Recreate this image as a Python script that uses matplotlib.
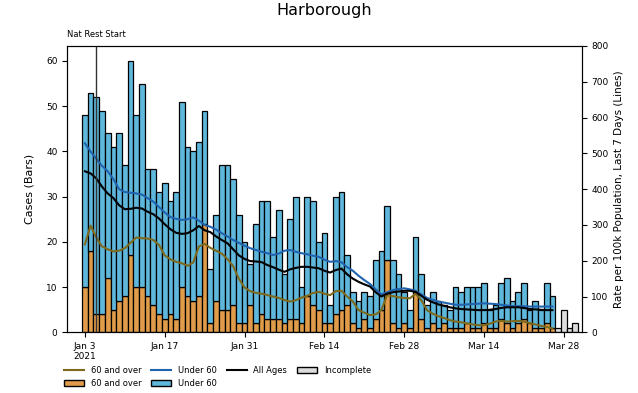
import matplotlib
matplotlib.use("Agg")
import matplotlib.pyplot as plt
import pandas as pd
from matplotlib.patches import Patch
from matplotlib.lines import Line2D

# daily cases from 3 Jan 2021
cases_60_plus = [10, 18, 4, 4, 12, 5, 7, 8, 17, 10, 10, 8, 6, 4, 3, 4, 3, 10, 8, 7,
                 8, 24, 2, 7, 5, 5, 6, 2, 2, 6, 2, 4, 3, 3, 3, 2, 3, 3, 2, 8,
                 6, 5, 2, 2, 4, 5, 6, 2, 1, 3, 1, 3, 5, 16, 2, 1, 2, 1, 9, 3,
                 1, 2, 1, 2, 1, 1, 1, 2, 1, 1, 2, 1, 1, 3, 2, 1, 2, 3, 2, 1,
                 1, 2, 1]
cases_under_60 = [38, 35, 48, 45, 32, 36, 37, 29, 43, 38, 45, 28, 30, 27, 30, 25, 28, 41, 33, 33,
                  34, 25, 12, 19, 32, 32, 28, 24, 18, 9, 22, 25, 26, 18, 24, 11, 22, 27, 8, 22,
                  23, 15, 20, 4, 26, 26, 11, 7, 6, 6, 7, 13, 13, 12, 14, 12, 7, 4, 12, 10,
                  5, 7, 6, 4, 4, 9, 8, 8, 9, 9, 9, 4, 5, 8, 10, 6, 7, 8, 3, 6,
                  4, 9, 7]
incomplete_cases = [1, 5, 1, 2]

# rate per 100k, last 7 days
rate_all_ages = [450, 444, 430, 407, 388, 375, 355, 344, 345, 348, 346, 337, 330, 318, 302, 288, 278, 275, 277, 285,
                 297, 285, 280, 268, 258, 249, 232, 215, 205, 199, 198, 196, 188, 182, 175, 169, 176, 180, 183, 183,
                 181, 179, 172, 167, 174, 178, 162, 150, 141, 134, 128, 112, 100, 108, 112, 114, 116, 116, 113, 102,
                 91, 84, 78, 74, 70, 67, 65, 64, 63, 62, 62, 63, 65, 68, 70, 70, 70, 68, 65, 64,
                 63, 62, 62]
rate_under_60 = [528, 505, 485, 465, 450, 428, 400, 392, 390, 388, 385, 375, 365, 350, 335, 322, 317, 314, 316, 321,
                 312, 300, 295, 287, 277, 268, 258, 250, 242, 235, 230, 225, 221, 216, 220, 228, 230, 225, 221, 218,
                 214, 211, 203, 197, 199, 196, 182, 172, 158, 146, 135, 120, 106, 112, 118, 121, 123, 120, 116, 106,
                 96, 91, 86, 83, 80, 77, 77, 78, 79, 80, 81, 80, 79, 77, 75, 73, 73, 73, 72, 72,
                 72, 72, 72]
rate_60_plus = [246, 298, 265, 240, 232, 226, 228, 235, 250, 265, 263, 262, 258, 244, 215, 204, 197, 193, 186, 195,
                240, 247, 236, 228, 220, 205, 185, 150, 125, 115, 110, 108, 104, 100, 96, 90, 86, 90, 97, 102,
                110, 113, 108, 104, 115, 116, 100, 86, 62, 55, 48, 50, 62, 104, 101, 98, 96, 95, 108, 90,
                62, 52, 45, 40, 34, 30, 28, 25, 22, 20, 20, 24, 30, 32, 30, 31, 32, 30, 26, 22,
                18, 15, 11]

tick_dates = ["2021-01-03", "2021-01-17", "2021-01-31", "2021-02-14", "2021-02-28", "2021-03-14", "2021-03-28"]
tick_labels = ["Jan 3\n2021", "Jan 17", "Jan 31", "Feb 14", "Feb 28", "Mar 14", "Mar 28"]

days = pd.date_range("2021-01-03", periods=len(cases_60_plus), freq="D")
inc_days = pd.date_range(days[-1] + pd.Timedelta(days=1), periods=len(incomplete_cases), freq="D")

c_old = "#e09c4a"
c_young = "#5fb8dc"
c_old_line = "#7d6a1e"
c_young_line = "#2063ae"

fig = plt.figure(figsize=(6.38, 3.93), dpi=100)
ax1 = fig.add_axes([0.1055, 0.1544, 0.8062, 0.7286])
ax2 = ax1.twinx()

ax1.bar(days, cases_60_plus, width=1, color=c_old, edgecolor="black", linewidth=0.9)
ax1.bar(days, cases_under_60, width=1, bottom=cases_60_plus, color=c_young, edgecolor="black", linewidth=0.9)
ax1.bar(inc_days, incomplete_cases, width=1, color="#dcdcdc", edgecolor="black", linewidth=0.9)

ax2.plot(days, rate_60_plus, color=c_old_line, lw=1.5)
ax2.plot(days, rate_under_60, color=c_young_line, lw=1.5)
ax2.plot(days, rate_all_ages, color="black", lw=1.5)

lock = pd.Timestamp("2021-01-05")
ax2.axvline(lock, color="#333333", lw=1)
ax2.text(lock, 820, "Nat Rest Start", ha="center", va="bottom", fontsize=6)

ax1.set_ylim(0, 63.3)
ax2.set_ylim(0, 800)
ax1.set_xlim(pd.Timestamp("2020-12-30 22:00"), pd.Timestamp("2021-03-31 03:00"))
ax1.set_yticks(range(0, 61, 10))
ax2.set_yticks(range(0, 801, 100))
ax1.set_xticks(pd.to_datetime(tick_dates))
ax1.set_xticklabels(tick_labels)
ax1.tick_params(labelsize=6.5)
ax2.tick_params(labelsize=6.5)

ax1.set_ylabel("Cases (Bars)", fontsize=8, labelpad=8)
ax2.set_ylabel("Rate per 100k Population, Last 7 Days (Lines)", fontsize=7.5)
ax1.set_title("Harborough", fontsize=11.5, pad=22)

handles = [
    Line2D([], [], color=c_old_line, lw=1.5),
    Patch(facecolor=c_old, edgecolor="black"),
    Line2D([], [], color=c_young_line, lw=1.5),
    Patch(facecolor=c_young, edgecolor="black"),
    Line2D([], [], color="black", lw=1.5),
    Patch(facecolor="#dcdcdc", edgecolor="black"),
]
labels = ["60 and over", "60 and over", "Under 60", "Under 60", "All Ages", "Incomplete"]
fig.legend(handles, labels, ncol=4, loc="upper left", bbox_to_anchor=(0.095, 0.077),
           frameon=False, fontsize=6, handlelength=2.4, columnspacing=1.2,
           labelspacing=0.5, borderaxespad=0)

fig.savefig("out.png", dpi=100)
